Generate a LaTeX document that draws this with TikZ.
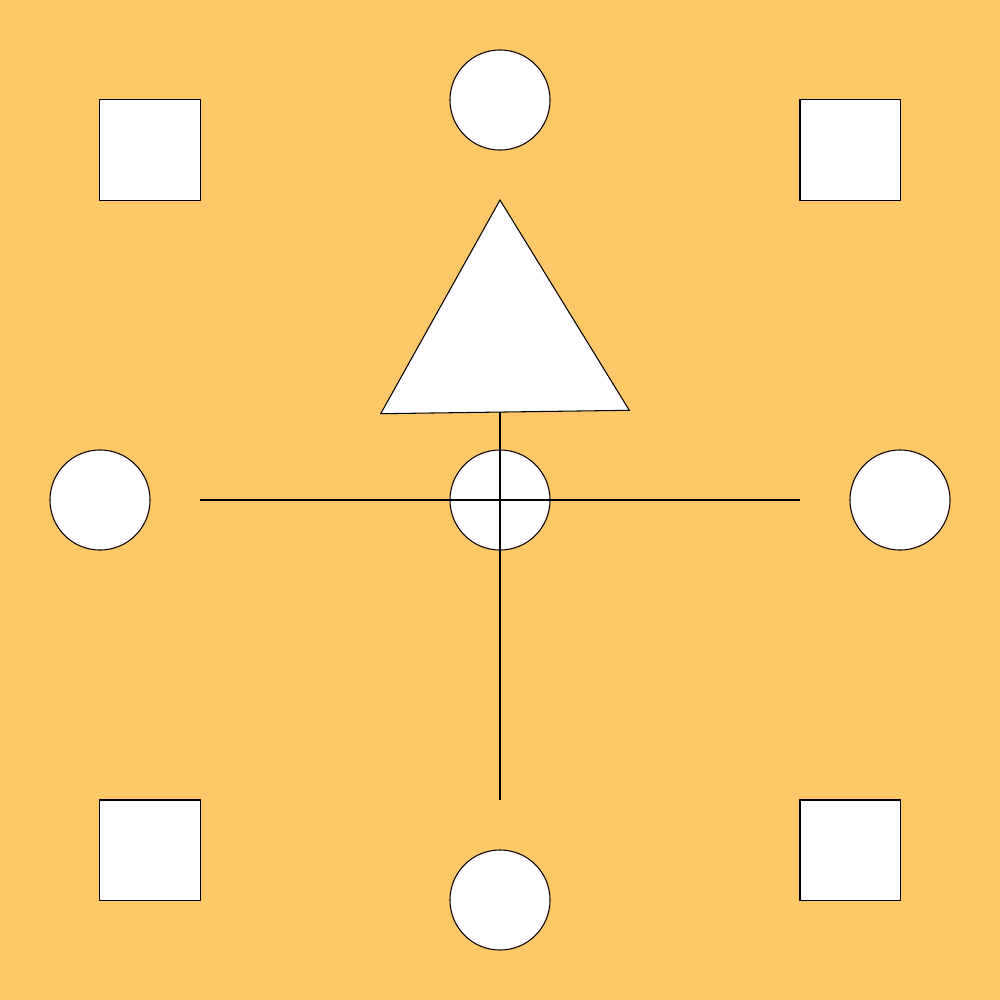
\documentclass[tikz,border=0pt]{standalone}
\definecolor{bgc}{HTML}{FEC868}
\begin{document}
\begin{tikzpicture}[x=0.01cm,y=-0.01cm,
  shp/.style={draw=black,fill=white,line width=0.3pt,inner sep=0pt,outer sep=0pt},
  circ/.style={shp,circle,minimum size=1cm},
  sq/.style={shp,rectangle,minimum size=1cm},
  ln/.style={draw=black,line width=0.3pt}]
\fill[bgc] (0,0) rectangle (1000,1000);
\useasboundingbox (0,0) rectangle (1000,1000);
\node[sq] (sqtl) at (150,150) {};
\node[sq] (sqtr) at (850,150) {};
\node[sq] (sqbl) at (150,850) {};
\node[sq] (sqbr) at (850,850) {};
\node[circ] (ctop) at (500,100) {};
\node[circ] (cbot) at (500,900) {};
\node[circ] (cleft) at (100,500) {};
\node[circ] (cright) at (900,500) {};
\node[circ] (cmid) at (500,500) {};
\coordinate (ta) at (500,200);
\coordinate (tl) at (380.7,413.7);
\coordinate (tr) at (629.3,410.3);
\filldraw[shp] (ta) -- (tl) -- (tr) -- cycle;
\coordinate (tb) at (500,412);
\coordinate (vb) at (500,800);
\coordinate (hl) at (200,500);
\coordinate (hr) at (800,500);
\draw[ln] (tb) -- (vb);
\draw[ln] (hl) -- (hr);
\end{tikzpicture}
\end{document}
